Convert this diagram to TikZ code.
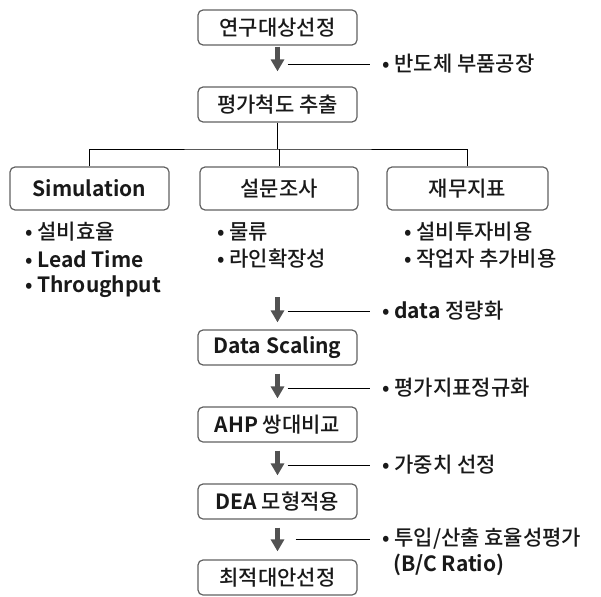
\documentclass[tikz,border=0pt]{standalone}
\usepackage{fontspec}
\setmainfont{Noto Sans CJK KR Medium}[BoldFont={Noto Sans CJK KR Bold}]
\usetikzlibrary{arrows.meta}
\newcommand\en[1]{\textbf{#1}}

\tikzset{
	stepbox/.style={draw=black!62, line width=1.2pt, rounded corners=5pt, minimum width=159pt, minimum height=35pt, inner sep=0pt, font=\fontsize{21}{21}\selectfont, text=black!90},
	flow/.style={draw=black!68, line width=5pt, -{Triangle[width=13pt,length=12pt]}},
	tie/.style={draw=black, line width=0.8pt},
	note/.style={anchor=west, inner sep=0pt, font=\fontsize{21}{21}\selectfont, text=black!90},
}

\begin{document}
\begin{tikzpicture}[x=1pt, y=-1pt]
		%%%%% START %%%%%
		\useasboundingbox (0, 0) rectangle (601, 596);
		
		% main steps
		\node[stepbox] (target) at (277.5, 27.5) {연구대상선정};
		\node[stepbox] (extract) at (277.5, 104.5) {평가척도 추출};
		\node[stepbox] (scale) at (277.5, 347.5) {\en{Data Scaling}};
		\node[stepbox] (ahp) at (277.5, 424.5) {\en{AHP} 쌍대비교};
		\node[stepbox] (dea) at (277.5, 501.5) {\en{DEA} 모형적용};
		\node[stepbox] (best) at (277.5, 577.5) {최적대안선정};
		
		% three sources
		\node[stepbox, minimum height=43pt] (sim) at (89.5, 188.5) {\en{Simulation}};
		\node[stepbox, minimum height=43pt, minimum width=158pt] (survey) at (279, 188.5) {설문조사};
		\node[stepbox, minimum height=43pt, minimum width=161pt] (finance) at (467.5, 188.5) {재무지표};
		
		\coordinate (fork) at (277.5, 149);
		\draw[tie] (extract.south) -- (fork);
		\draw[tie] (sim.north) |- (fork) -| (finance.north);
		\draw[tie] (survey.north) -- (survey.north |- fork);
		
		% lists
		\node[note] (simA) at (25, 232) {• 설비효율};
		\node[note] (simB) at (25, 259) {• \en{Lead Time}};
		\node[note] (simC) at (25, 287) {• \en{Throughput}};
		\node[note] (surA) at (217, 232) {• 물류};
		\node[note] (surB) at (217, 259) {• 라인확장성};
		\node[note] (finA) at (404, 232) {• 설비투자비용};
		\node[note] (finB) at (404, 259) {• 작업자 추가비용};
		
		% notes beside the arrows
		\node[note] (n1) at (382, 64) {• 반도체 부품공장};
		\node[note] (n2) at (382, 311) {• \en{data} 정량화};
		\node[note] (n3) at (382, 388) {• 평가지표정규화};
		\node[note] (n4) at (382, 465) {• 가중치 선정};
		\node[note] (n5) at (382, 539) {• 투입/산출 효율성평가};
		\node[note] (n5b) at (393, 565) {\en{(B/C Ratio)}};
		
		% arrows
		\coordinate (start) at (277.5, 297);
		\draw[flow] ([yshift=-1pt]target.south) -- ([yshift=15pt]extract.north);
		\draw[flow] (start) -- ([yshift=7pt]scale.north);
		\draw[flow] ([yshift=-8pt]scale.south) -- ([yshift=8pt]ahp.north);
		\draw[flow] ([yshift=-8pt]ahp.south) -- ([yshift=8pt]dea.north);
		\draw[flow] ([yshift=-8pt]dea.south) -- ([yshift=8pt]best.north);
		
		\draw[tie] ([xshift=10pt]target.south |- n1.west) -- ([xshift=-12pt]n1.west);
		\draw[tie] ([xshift=10pt]start |- n2.west) -- ([xshift=-12pt]n2.west);
		\draw[tie] ([xshift=10pt]scale.south |- n3.west) -- ([xshift=-12pt]n3.west);
		\draw[tie] ([xshift=10pt]ahp.south |- n4.west) -- ([xshift=-12pt]n4.west);
		\draw[tie] ([xshift=18pt]dea.south |- n5.west) -- ([xshift=-12pt]n5.west);
		
		%%%%% END %%%%%
	\end{tikzpicture}
\end{document}
